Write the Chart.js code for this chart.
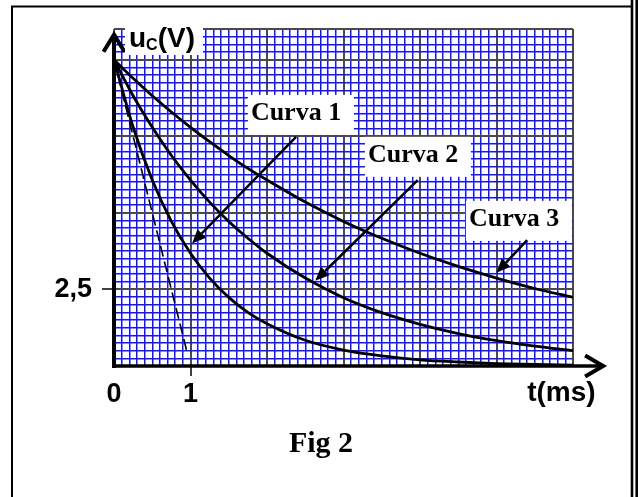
<!DOCTYPE html>
<html>
<head>
<meta charset="utf-8">
<script src="https://cdn.jsdelivr.net/npm/chart.js@4.4.1/dist/chart.umd.min.js"></script>
<style>
  html, body { margin: 0; padding: 0; background: #fff; }
  canvas { display: block; }
</style>
</head>
<body>
<canvas id="grafica" width="638" height="497"></canvas>
<script>
// Valores: t en ms, uC en V
const tiempos = [0, 0.25, 0.5, 0.75, 1, 1.25, 1.5, 1.75, 2, 2.5, 3, 3.5, 4, 4.5, 5, 5.5, 6];
const curva1 = [10, 7.8, 6.07, 4.72, 3.68, 2.87, 2.24, 1.75, 1.38, 0.84, 0.52, 0.33, 0.2, 0.13, 0.08, 0.05, 0.03];
const curva2 = [10, 8.82, 7.79, 6.87, 6.07, 5.35, 4.72, 4.17, 3.68, 2.87, 2.23, 1.74, 1.36, 1.06, 0.83, 0.65, 0.5];
const curva3 = [10, 9.39, 8.82, 8.29, 7.79, 7.32, 6.87, 6.45, 6.07, 5.35, 4.72, 4.17, 3.68, 3.25, 2.87, 2.53, 2.24];

// Tangente en el origen de la curva 1 (discontinua)
const tangenteT = [0, 0.96];
const tangenteU = [10, 0.4];

// Etiquetas de los ejes
const etiquetasT = [0, 1];
const etiquetasU = [2.5];

// Rótulos "Curva n" con su flecha (en unidades de los ejes)
const rotulos = [
    { texto: 'Curva 1', t: 1.75, u: 8.85, desde: [2.38, 7.48], hasta: [1.02, 4.0] },
    { texto: 'Curva 2', t: 3.28, u: 7.48, desde: [3.97, 6.07], hasta: [2.63, 2.78] },
    { texto: 'Curva 3', t: 4.6, u: 5.39, desde: [5.4, 4.11], hasta: [5.0, 3.04] }
];

const fuenteSans = '"Liberation Sans", Arial, sans-serif';
const fuenteSerif = '"Liberation Serif", "Times New Roman", serif';

function esMayorT(v) { return Math.abs(v - Math.round(v)) < 1e-6; }
function esMayorU(v) { return Math.abs(v / 2.5 - Math.round(v / 2.5)) < 1e-6 || v > 10.99; }

function puntos(ts, us) {
    return ts.map((t, i) => ({ x: t, y: us[i] }));
}

function flecha(ctx, x1, y1, x2, y2) {
    const ang = Math.atan2(y2 - y1, x2 - x1);
    const largo = 14, ancho = 6;
    const bx = x2 - largo * Math.cos(ang), by = y2 - largo * Math.sin(ang);
    ctx.beginPath();
    ctx.moveTo(x1, y1);
    ctx.lineTo(bx, by);
    ctx.lineWidth = 2.5;
    ctx.stroke();
    ctx.beginPath();
    ctx.moveTo(x2, y2);
    ctx.lineTo(bx + ancho * Math.sin(ang), by - ancho * Math.cos(ang));
    ctx.lineTo(bx - ancho * Math.sin(ang), by + ancho * Math.cos(ang));
    ctx.closePath();
    ctx.fill();
}

// Marco de la figura
const marco = {
    id: 'marco',
    beforeDraw(chart) {
        const ctx = chart.ctx;
        ctx.save();
        ctx.fillStyle = '#fff';
        ctx.fillRect(0, 0, chart.width, chart.height);
        ctx.strokeStyle = '#000';
        ctx.lineWidth = 2;
        ctx.beginPath();
        ctx.moveTo(12, chart.height);
        ctx.lineTo(12, 6.5);
        ctx.lineTo(632, 6.5);
        ctx.stroke();
        ctx.lineWidth = 2.6;
        ctx.beginPath();
        ctx.moveTo(632, 0);
        ctx.lineTo(632, chart.height);
        ctx.moveTo(636.7, 0);
        ctx.lineTo(636.7, chart.height);
        ctx.stroke();
        ctx.restore();
    }
};

// Ejes con flecha, rótulos y pie de figura
const anotaciones = {
    id: 'anotaciones',
    afterDatasetsDraw(chart) {
        const ctx = chart.ctx;
        const xs = chart.scales.x, ys = chart.scales.y;
        const x0 = xs.getPixelForValue(0), y0 = ys.getPixelForValue(0);
        const xFin = xs.getPixelForValue(6.42), yFin = ys.getPixelForValue(10.88);
        ctx.save();
        ctx.strokeStyle = '#000';
        ctx.fillStyle = '#000';

        // eje vertical
        ctx.lineWidth = 4;
        ctx.beginPath();
        ctx.moveTo(x0, y0 + 2);
        ctx.lineTo(x0, yFin + 3);
        ctx.stroke();
        ctx.lineJoin = 'miter';
        ctx.beginPath();
        ctx.moveTo(x0 - 10.5, yFin + 19);
        ctx.lineTo(x0, yFin + 2);
        ctx.lineTo(x0 + 10.5, yFin + 19);
        ctx.stroke();

        // eje horizontal
        ctx.lineWidth = 3.5;
        ctx.beginPath();
        ctx.moveTo(x0 - 2, y0);
        ctx.lineTo(xFin - 3, y0);
        ctx.stroke();
        ctx.lineWidth = 4;
        ctx.beginPath();
        ctx.moveTo(xFin - 20, y0 - 10.5);
        ctx.lineTo(xFin - 2, y0);
        ctx.lineTo(xFin - 20, y0 + 10.5);
        ctx.stroke();

        // uC(V)
        const lx = x0 + 11, ly = ys.getPixelForValue(11) - 4;
        ctx.fillStyle = '#fff';
        ctx.fillRect(lx, ly, 78, 30);
        ctx.fillStyle = '#000';
        ctx.textBaseline = 'alphabetic';
        ctx.textAlign = 'left';
        ctx.font = 'bold 28px ' + fuenteSans;
        let px = lx + 4;
        ctx.fillText('u', px, ly + 22);
        px += ctx.measureText('u').width;
        ctx.font = 'bold 16px ' + fuenteSans;
        ctx.fillText('C', px, ly + 25);
        px += ctx.measureText('C').width;
        ctx.font = 'bold 28px ' + fuenteSans;
        ctx.fillText('(V)', px, ly + 22);

        // t(ms)
        ctx.fillText('t(ms)', xFin - 78, y0 + 35);

        // Rótulos Curva n
        ctx.font = 'bold 26px ' + fuenteSerif;
        rotulos.forEach(r => {
            const bx = xs.getPixelForValue(r.t), by = ys.getPixelForValue(r.u);
            ctx.fillStyle = '#fff';
            ctx.fillRect(bx, by, 106, 40);
            ctx.fillStyle = '#000';
            ctx.fillText(r.texto, bx + 3, by + 25);
            flecha(ctx,
                xs.getPixelForValue(r.desde[0]), ys.getPixelForValue(r.desde[1]),
                xs.getPixelForValue(r.hasta[0]), ys.getPixelForValue(r.hasta[1]));
        });

        // Pie de figura
        ctx.font = 'bold 30px ' + fuenteSerif;
        ctx.textAlign = 'center';
        ctx.fillText('Fig 2', 321, 452);
        ctx.restore();
    }
};

const linea = {
    borderColor: '#000',
    borderWidth: 2.8,
    pointRadius: 0,
    fill: false,
    cubicInterpolationMode: 'monotone'
};

new Chart(document.getElementById('grafica'), {
    type: 'line',
    data: {
        datasets: [
            Object.assign({ label: 'Curva 1', data: puntos(tiempos, curva1) }, linea),
            Object.assign({ label: 'Curva 2', data: puntos(tiempos, curva2) }, linea),
            Object.assign({ label: 'Curva 3', data: puntos(tiempos, curva3) }, linea),
            {
                label: 'Tangente',
                data: puntos(tangenteT, tangenteU),
                borderColor: '#000',
                borderWidth: 1.6,
                borderDash: [11, 5],
                pointRadius: 0,
                fill: false
            }
        ]
    },
    options: {
        responsive: false,
        maintainAspectRatio: false,
        animation: false,
        layout: { padding: { top: 29, right: 65, bottom: 0, left: 0 } },
        plugins: { legend: { display: false }, tooltip: { enabled: false } },
        scales: {
            x: {
                type: 'linear',
                min: 0,
                max: 6,
                afterFit: s => { s.height = 131; },
                border: { display: false },
                grid: {
                    color: c => (c.tick && esMayorT(c.tick.value)) ? '#4a4a4a' : '#1414ff',
                    lineWidth: c => (c.tick && esMayorT(c.tick.value)) ? 2 : 1.5,
                    tickLength: 10,
                    tickWidth: 1.5,
                    tickColor: c => (c.tick && c.tick.value === 1) ? '#000' : 'rgba(0,0,0,0)'
                },
                ticks: {
                    stepSize: 0.1,
                    autoSkip: false,
                    maxRotation: 0,
                    padding: 2,
                    color: '#000',
                    font: { family: fuenteSans, size: 27, weight: 'bold' },
                    callback: v => etiquetasT.some(e => Math.abs(e - v) < 1e-6) ? String(v) : ''
                }
            },
            y: {
                type: 'linear',
                min: 0,
                max: 11,
                afterFit: s => { s.width = 114; },
                border: { display: false },
                grid: {
                    color: c => (c.tick && esMayorU(c.tick.value)) ? '#4a4a4a' : '#1414ff',
                    lineWidth: c => (c.tick && esMayorU(c.tick.value)) ? 2 : 1.5,
                    tickLength: 12,
                    tickWidth: 1.5,
                    tickColor: c => (c.tick && Math.abs(c.tick.value - 2.5) < 1e-6) ? '#000' : 'rgba(0,0,0,0)'
                },
                ticks: {
                    stepSize: 0.25,
                    autoSkip: false,
                    padding: 10,
                    color: '#000',
                    font: { family: fuenteSans, size: 27, weight: 'bold' },
                    callback: v => etiquetasU.some(e => Math.abs(e - v) < 1e-6) ? String(v).replace('.', ',') : ''
                }
            }
        }
    },
    plugins: [marco, anotaciones]
});
</script>
</body>
</html>
